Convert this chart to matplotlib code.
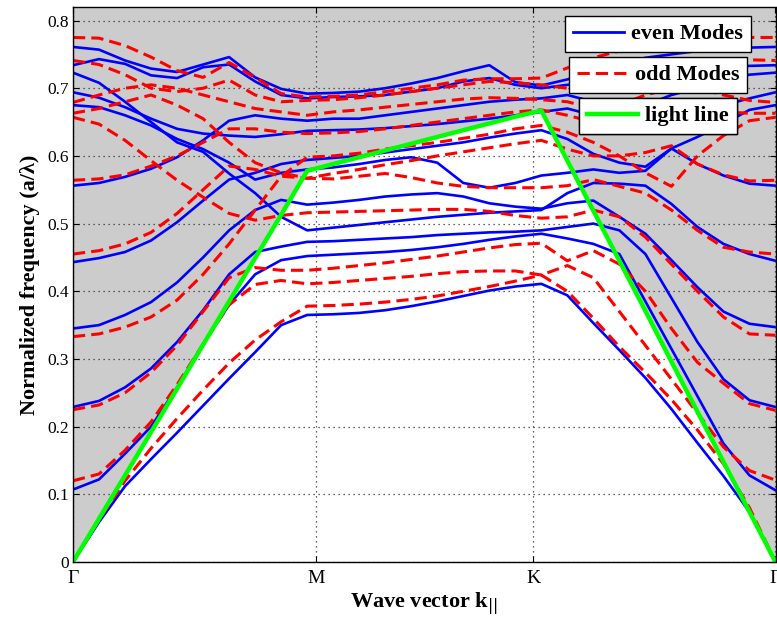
import numpy as np
import matplotlib.pyplot as plt
from matplotlib.lines import Line2D

# k-path sample index: Gamma(0) -> M(9) -> K(18) -> Gamma(27)
k = np.arange(28)
tick_pos = [0, 9.35, 17.69, 27]
tick_lab = ['\u0393', 'M', 'K', '\u0393']

light = [0.000, 0.064, 0.128, 0.192, 0.256, 0.321, 0.385, 0.449, 0.513, 0.578,
         0.588, 0.598, 0.608, 0.618, 0.628, 0.638, 0.648, 0.658, 0.667,
         0.593, 0.519, 0.445, 0.371, 0.296, 0.222, 0.148, 0.074, 0.000]

# even modes, one list per traced curve
e1 = [0.000, 0.059, 0.112, 0.152, 0.191, 0.231, 0.271, 0.310, 0.350, 0.365,
      0.366, 0.368, 0.372, 0.378, 0.385, 0.393, 0.401, 0.407, 0.411,
      0.394, 0.353, 0.313, 0.272, 0.226, 0.176, 0.127, 0.074, 0.000]
e2 = [0.107, 0.122, 0.160, 0.200, 0.258, 0.322, 0.380, 0.425, 0.446, 0.452,
      0.454, 0.456, 0.458, 0.461, 0.465, 0.470, 0.476, 0.481, 0.485,
      0.478, 0.470, 0.455, 0.385, 0.315, 0.245, 0.175, 0.128, 0.106]
e3 = [0.229, 0.238, 0.258, 0.286, 0.325, 0.372, 0.425, 0.458, 0.466, 0.473,
      0.474, 0.476, 0.478, 0.480, 0.483, 0.485, 0.487, 0.488, 0.490,
      0.495, 0.500, 0.490, 0.455, 0.390, 0.325, 0.270, 0.239, 0.229]
e4 = [0.345, 0.350, 0.365, 0.384, 0.413, 0.450, 0.490, 0.520, 0.535, 0.528,
      0.531, 0.535, 0.540, 0.543, 0.545, 0.540, 0.530, 0.525, 0.522,
      0.530, 0.534, 0.510, 0.485, 0.446, 0.406, 0.370, 0.352, 0.347]
e5 = [0.443, 0.449, 0.458, 0.475, 0.502, 0.534, 0.565, 0.575, 0.588, 0.594,
      0.597, 0.600, 0.605, 0.610, 0.615, 0.620, 0.627, 0.633, 0.638,
      0.625, 0.603, 0.590, 0.584, 0.611, 0.628, 0.647, 0.668, 0.675]
e6 = [0.556, 0.560, 0.569, 0.581, 0.598, 0.623, 0.652, 0.660, 0.655, 0.652,
      0.655, 0.655, 0.660, 0.665, 0.670, 0.675, 0.680, 0.683, 0.685,
      0.690, 0.680, 0.670, 0.675, 0.690, 0.700, 0.710, 0.720, 0.723]
e7 = [0.675, 0.672, 0.660, 0.645, 0.625, 0.610, 0.590, 0.565, 0.575, 0.580,
      0.583, 0.588, 0.594, 0.598, 0.590, 0.560, 0.553, 0.560, 0.571,
      0.575, 0.580, 0.575, 0.578, 0.611, 0.588, 0.571, 0.559, 0.556]
e8 = [0.694, 0.686, 0.672, 0.655, 0.640, 0.633, 0.630, 0.628, 0.632, 0.637,
      0.638, 0.639, 0.641, 0.644, 0.647, 0.651, 0.655, 0.660, 0.665,
      0.670, 0.660, 0.650, 0.645, 0.655, 0.665, 0.675, 0.685, 0.694]
e9 = [0.723, 0.708, 0.680, 0.650, 0.620, 0.606, 0.574, 0.545, 0.510, 0.490,
      0.494, 0.498, 0.502, 0.506, 0.510, 0.513, 0.516, 0.518, 0.520,
      0.545, 0.560, 0.559, 0.556, 0.529, 0.495, 0.470, 0.455, 0.445]
e10 = [0.734, 0.743, 0.736, 0.719, 0.715, 0.731, 0.735, 0.710, 0.690, 0.685,
       0.687, 0.688, 0.690, 0.695, 0.700, 0.710, 0.715, 0.705, 0.700,
       0.705, 0.710, 0.715, 0.720, 0.725, 0.730, 0.732, 0.733, 0.734]
e11 = [0.761, 0.757, 0.741, 0.729, 0.724, 0.735, 0.746, 0.716, 0.699, 0.692,
       0.693, 0.695, 0.700, 0.707, 0.715, 0.725, 0.734, 0.709, 0.704,
       0.713, 0.725, 0.735, 0.745, 0.750, 0.755, 0.758, 0.760, 0.761]

# odd modes
o1 = [0.000, 0.062, 0.120, 0.168, 0.212, 0.254, 0.294, 0.328, 0.355, 0.378,
      0.379, 0.381, 0.384, 0.388, 0.393, 0.400, 0.407, 0.415, 0.424,
      0.400, 0.360, 0.318, 0.280, 0.240, 0.195, 0.145, 0.080, 0.000]
o2 = [0.120, 0.130, 0.165, 0.207, 0.262, 0.322, 0.380, 0.410, 0.416, 0.411,
      0.413, 0.416, 0.419, 0.422, 0.426, 0.429, 0.430, 0.430, 0.424,
      0.438, 0.420, 0.370, 0.320, 0.270, 0.220, 0.170, 0.135, 0.121]
o3 = [0.225, 0.232, 0.250, 0.280, 0.320, 0.370, 0.420, 0.435, 0.431, 0.431,
      0.434, 0.438, 0.442, 0.447, 0.452, 0.458, 0.464, 0.469, 0.471,
      0.445, 0.460, 0.440, 0.400, 0.345, 0.295, 0.264, 0.234, 0.224]
o4 = [0.333, 0.337, 0.347, 0.362, 0.387, 0.425, 0.470, 0.520, 0.570, 0.598,
      0.600, 0.604, 0.610, 0.615, 0.620, 0.626, 0.632, 0.640, 0.645,
      0.635, 0.620, 0.600, 0.575, 0.555, 0.600, 0.630, 0.652, 0.657]
o5 = [0.455, 0.460, 0.470, 0.487, 0.515, 0.550, 0.585, 0.580, 0.570, 0.567,
      0.574, 0.580, 0.587, 0.593, 0.600, 0.606, 0.612, 0.618, 0.623,
      0.610, 0.600, 0.600, 0.605, 0.615, 0.588, 0.572, 0.563, 0.564]
o6 = [0.564, 0.566, 0.572, 0.585, 0.600, 0.620, 0.640, 0.640, 0.635, 0.633,
      0.634, 0.636, 0.640, 0.645, 0.650, 0.655, 0.660, 0.665, 0.668,
      0.660, 0.650, 0.645, 0.655, 0.665, 0.670, 0.665, 0.663, 0.663]
o7 = [0.657, 0.647, 0.623, 0.593, 0.564, 0.539, 0.515, 0.505, 0.512, 0.516,
      0.517, 0.518, 0.519, 0.520, 0.521, 0.521, 0.518, 0.512, 0.508,
      0.510, 0.520, 0.510, 0.480, 0.440, 0.400, 0.362, 0.337, 0.335]
o8 = [0.663, 0.670, 0.680, 0.690, 0.675, 0.655, 0.620, 0.590, 0.575, 0.567,
      0.566, 0.570, 0.574, 0.568, 0.560, 0.555, 0.553, 0.553, 0.553,
      0.556, 0.565, 0.555, 0.545, 0.520, 0.490, 0.465, 0.458, 0.455]
o9 = [0.679, 0.690, 0.700, 0.705, 0.700, 0.690, 0.680, 0.670, 0.665, 0.660,
      0.665, 0.668, 0.672, 0.676, 0.680, 0.684, 0.686, 0.685, 0.683,
      0.680, 0.670, 0.675, 0.690, 0.700, 0.700, 0.690, 0.682, 0.679]
o10 = [0.741, 0.735, 0.720, 0.700, 0.695, 0.700, 0.712, 0.690, 0.680, 0.682,
       0.683, 0.686, 0.690, 0.695, 0.700, 0.705, 0.710, 0.708, 0.705,
       0.700, 0.705, 0.715, 0.725, 0.735, 0.740, 0.742, 0.742, 0.741]
o11 = [0.775, 0.774, 0.763, 0.746, 0.726, 0.716, 0.738, 0.716, 0.692, 0.687,
       0.688, 0.690, 0.695, 0.700, 0.705, 0.712, 0.714, 0.714, 0.715,
       0.730, 0.745, 0.755, 0.765, 0.770, 0.772, 0.775, 0.775, 0.775]

even_bands = [e1, e2, e3, e4, e5, e6, e7, e8, e9, e10, e11]
odd_bands = [o1, o2, o3, o4, o5, o6, o7, o8, o9, o10, o11]

plt.rcParams['font.family'] = ['Liberation Serif', 'DejaVu Serif']

fig = plt.figure(figsize=(7.77, 6.25), dpi=100)
ax = fig.add_axes([73/777, 63/625, 702.5/777, 555/625])

ymax = 0.82
dash = (0, (4, 2))
# light cone
ax.fill_between(k, light, ymax, color=(0.8, 0.8, 0.8), lw=0, zorder=0)

for b in even_bands:
    ax.plot(k, b, color='b', lw=1.9, zorder=2)
for b in odd_bands:
    ax.plot(k, b, color='r', lw=2.2, ls=dash, zorder=3)
ax.plot(k, light, color=(0, 1, 0), lw=3.2, zorder=4)

ax.set_xlim(0, 27)
ax.set_ylim(0, ymax)
ax.set_xticks(tick_pos)
ax.set_xticklabels(tick_lab, fontsize=14)
ax.set_yticks(np.arange(0, 0.81, 0.1))
ax.set_yticklabels(['0', '0.1', '0.2', '0.3', '0.4', '0.5', '0.6', '0.7', '0.8'], fontsize=12.5)
ax.tick_params(direction='in', length=4, top=True, right=True, pad=3)
ax.tick_params(axis='x', pad=6)
ax.grid(True, ls=(0, (1, 3)), color='#333333', lw=0.9)
ax.set_axisbelow(False)
for gl in ax.get_xgridlines() + ax.get_ygridlines():
    gl.set_zorder(1)
for s in ax.spines.values():
    s.set_linewidth(1.0)
    s.set_zorder(5)

ax.set_xlabel('Wave vector k$_{||}$', fontsize=16, fontweight='bold', labelpad=2)
ax.set_ylabel('Normalized frequency (a/\u03bb)', fontsize=16, fontweight='bold', labelpad=5)

# separate boxed legend entries
entries = [
    (Line2D([], [], color='b', lw=2), 'even Modes', 658, 16),
    (Line2D([], [], color='r', lw=2.2, ls=dash), 'odd Modes', 658, 57),
    (Line2D([], [], color=(0, 1, 0), lw=3.2), 'light line', 658, 98),
]
for h, lab, cx, top in entries:
    leg = ax.legend([h], [lab], loc='upper center',
                    bbox_to_anchor=(cx/777, 1 - top/625), bbox_transform=fig.transFigure,
                    prop={'family': 'Liberation Serif', 'weight': 'bold', 'size': 16},
                    fancybox=False, framealpha=1, edgecolor='k',
                    handlelength=2.3, handletextpad=0.3, borderpad=0.35,
                    borderaxespad=0)
    leg.get_frame().set_linewidth(1.0)
    leg.set_zorder(6)
    ax.add_artist(leg)

fig.savefig('out.png', dpi=100)
